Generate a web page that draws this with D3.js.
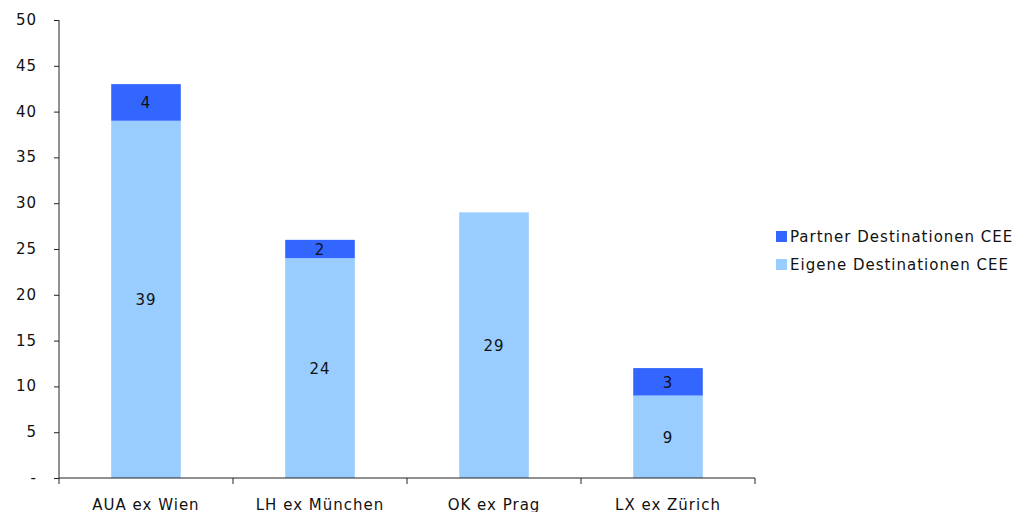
<!DOCTYPE html>
<html><head><meta charset="utf-8">
<script src="https://cdn.jsdelivr.net/npm/d3@7"></script>
<style>body{margin:0;background:#fff;} svg{display:block;} text{font-family:"DejaVu Sans",Verdana,sans-serif;fill:#111;letter-spacing:1px;}</style>
</head><body><svg id="c" width="1016" height="512"></svg>
<script>
const categories = ["AUA ex Wien","LH ex München","OK ex Prag","LX ex Zürich"];
const eigene = [39,24,29,9];
const partner = [4,2,0,3];
const yTicks = [0,5,10,15,20,25,30,35,40,45,50];
const seriesNames = ["Partner Destinationen CEE","Eigene Destinationen CEE"];
const colors = {partner:"#3366FF", eigene:"#99CCFF"};
const FS = 15;

const svg = d3.select("#c");
const x = d3.scaleBand().domain(categories).range([59,755]).paddingInner(0).paddingOuter(0);
const y = d3.scaleLinear().domain([0,50]).range([478,20]);
const bw = x.bandwidth()*0.40;

const g = svg.append("g");
categories.forEach((c,i)=>{
  const cx = x(c)+x.bandwidth()/2;
  g.append("rect").attr("x",cx-bw/2).attr("width",bw)
    .attr("y",y(eigene[i])).attr("height",y(0)-y(eigene[i])).attr("fill",colors.eigene);
  g.append("text").attr("x",cx).attr("y",(y(eigene[i])+y(0))/2).attr("dy","0.4em")
    .attr("text-anchor","middle").attr("font-size",FS).text(eigene[i]);
  if(partner[i]>0){
    const top = eigene[i]+partner[i];
    g.append("rect").attr("x",cx-bw/2).attr("width",bw)
      .attr("y",y(top)).attr("height",y(eigene[i])-y(top)).attr("fill",colors.partner);
    g.append("text").attr("x",cx).attr("y",(y(top)+y(eigene[i]))/2).attr("dy","0.4em")
      .attr("text-anchor","middle").attr("font-size",FS).text(partner[i]);
  }
});

// y axis
const ya = svg.append("g").attr("transform","translate(59,0)")
  .call(d3.axisLeft(y).tickValues(yTicks).tickSize(5).tickPadding(17).tickFormat(d=>d===0?"-":d));
ya.select(".domain").attr("stroke","#222").attr("d","M0,20V478");
ya.selectAll(".tick line").attr("stroke","#222");
ya.selectAll("text").attr("font-size",FS).attr("fill","#111").attr("dy","0.3em");

// x axis
const xa = svg.append("g").attr("transform","translate(0,478)");
xa.append("line").attr("x1",59).attr("x2",755).attr("stroke","#222");
const bounds = categories.map(c=>x(c)).concat([x(categories[categories.length-1])+x.bandwidth()]);
bounds.forEach(b=>xa.append("line").attr("x1",b).attr("x2",b).attr("y1",0).attr("y2",6).attr("stroke","#222"));
categories.forEach(c=>xa.append("text").attr("x",x(c)+x.bandwidth()/2).attr("y",32)
  .attr("text-anchor","middle").attr("font-size",FS).text(c));

// legend
const lg = svg.append("g");
[[seriesNames[0],colors.partner],[seriesNames[1],colors.eigene]].forEach((d,i)=>{
  const yy = 237 + i*28;
  lg.append("rect").attr("x",776).attr("y",yy-6).attr("width",11).attr("height",11).attr("fill",d[1]);
  lg.append("text").attr("x",790).attr("y",yy).attr("dy","0.35em").attr("font-size",FS).text(d[0]);
});
</script></body></html>
